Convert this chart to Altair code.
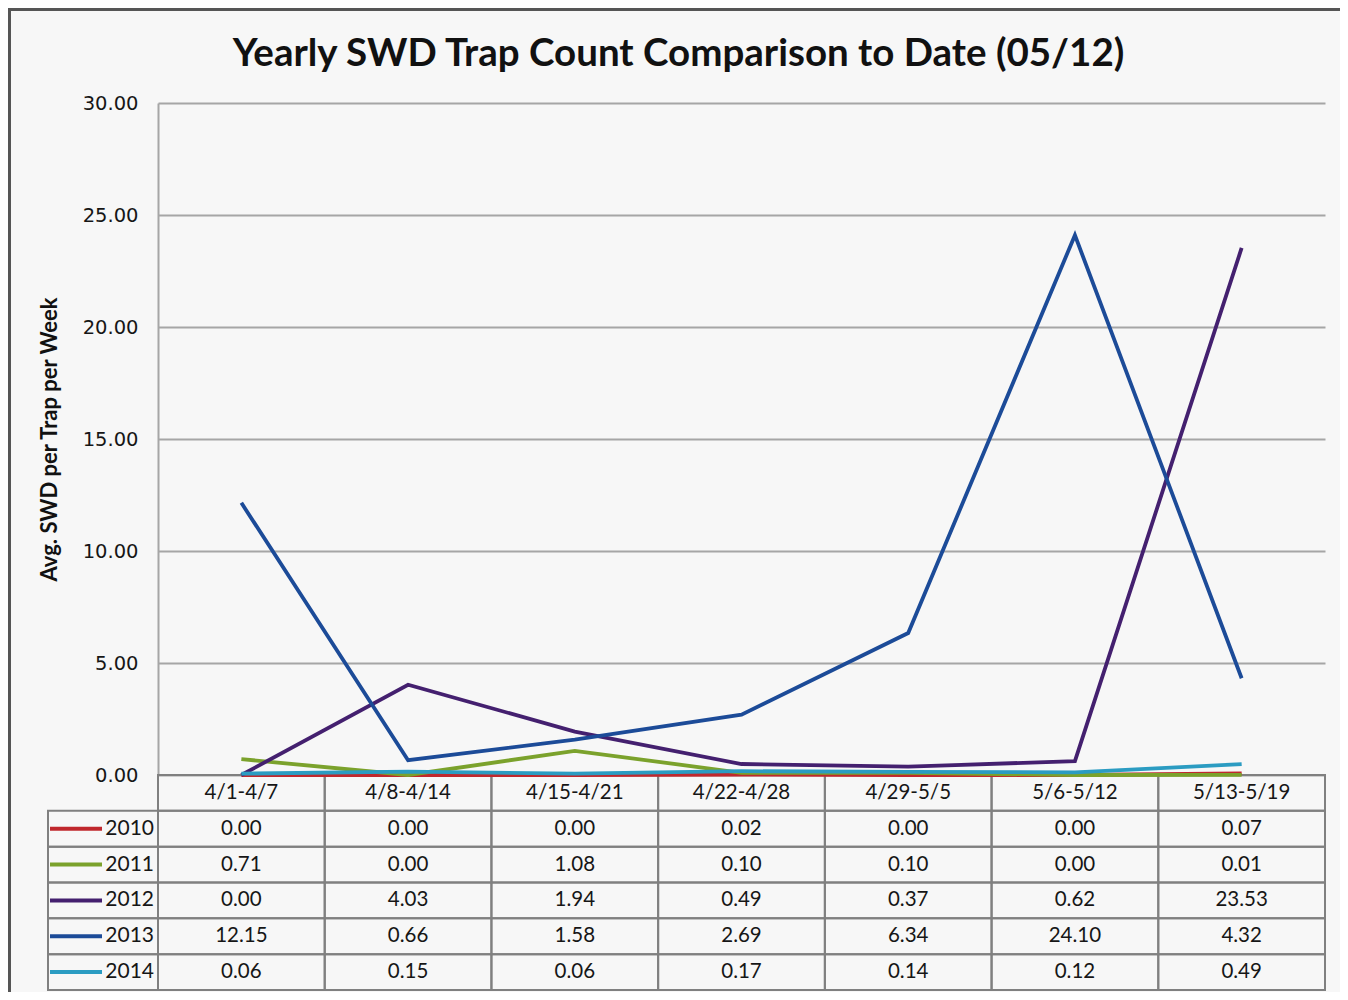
import altair as alt
import pandas as pd

categories = ["4/1-4/7", "4/8-4/14", "4/15-4/21", "4/22-4/28", "4/29-5/5", "5/6-5/12", "5/13-5/19"]
years = ["2010", "2011", "2012", "2013", "2014"]
v2010 = [0.00, 0.00, 0.00, 0.02, 0.00, 0.00, 0.07]
v2011 = [0.71, 0.00, 1.08, 0.10, 0.10, 0.00, 0.01]
v2012 = [0.00, 4.03, 1.94, 0.49, 0.37, 0.62, 23.53]
v2013 = [12.15, 0.66, 1.58, 2.69, 6.34, 24.10, 4.32]
v2014 = [0.06, 0.15, 0.06, 0.17, 0.14, 0.12, 0.49]
colors = ["#c0282d", "#7ba22c", "#44206f", "#1c4b98", "#2b9cc2"]
y_ticks = [0, 5, 10, 15, 20, 25, 30]
title_text = "Yearly SWD Trap Count Comparison to Date (05/12)"
y_title = "Avg. SWD per Trap per Week"

series = dict(zip(years, [v2010, v2011, v2012, v2013, v2014]))

rows = []
for yr in years:
    for i, (c, v) in enumerate(zip(categories, series[yr])):
        rows.append({"cat": c, "idx": i, "year": yr, "row": yr, "value": v, "label": f"{v:.2f}"})
df = pd.DataFrame(rows)
header = pd.DataFrame({"cat": categories, "row": ["header"] * len(categories), "label": categories})
cells = pd.concat([header, df[["cat", "row", "label"]]], ignore_index=True)
legend_df = pd.DataFrame({"row": years, "year": years})

W, H = 1167, 672
TABLE_H = 215
LEG_W = 110
GRID = "#a6a6a6"
TBL = "#808080"
TXT = "#161616"

x_scale = alt.Scale(type="band", domain=categories, paddingInner=0, paddingOuter=0)
row_scale = alt.Scale(type="band", domain=["header"] + years, range=[H, H + TABLE_H],
                      paddingInner=0, paddingOuter=0)
color_scale = alt.Scale(domain=years, range=colors)

one = pd.DataFrame({"a": [0]})
frame = alt.Chart(one).mark_rect(
    fill="transparent", stroke="#555555", strokeWidth=3
).encode(x=alt.value(-148.5), x2=alt.value(W + 200), y=alt.value(-93.5), y2=alt.value(H + 400))

title_mark = alt.Chart(one).mark_text(
    font="Lato", fontSize=38.5, fontWeight="bold", color="#111111", align="center", baseline="alphabetic"
).encode(x=alt.value(W / 2 - 63), y=alt.value(-37), text=alt.value(title_text))

cell_rects = alt.Chart(cells).mark_rect(fill="transparent", stroke=TBL, strokeWidth=2).encode(
    x=alt.X("cat:N", scale=x_scale, axis=None),
    y=alt.Y("row:N", scale=row_scale, axis=None),
)
cell_text = alt.Chart(cells).mark_text(font="Lato", fontSize=20.5, color=TXT, baseline="middle").encode(
    x=alt.X("cat:N", scale=x_scale, axis=None, bandPosition=0.5),
    y=alt.Y("row:N", scale=row_scale, axis=None, bandPosition=0.5),
    text="label:N",
)
leg_rects = alt.Chart(legend_df).mark_rect(fill="transparent", stroke=TBL, strokeWidth=2).encode(
    x=alt.value(-LEG_W), x2=alt.value(0),
    y=alt.Y("row:N", scale=row_scale, axis=None),
)
leg_swatch = alt.Chart(legend_df).mark_rule(strokeWidth=4).encode(
    x=alt.value(-108), x2=alt.value(-56),
    y=alt.Y("row:N", scale=row_scale, axis=None, bandPosition=0.5),
    color=alt.Color("year:N", scale=color_scale, legend=None),
)
leg_text = alt.Chart(legend_df).mark_text(font="Lato", fontSize=21, color=TXT, align="right",
                                          baseline="middle").encode(
    x=alt.value(-4),
    y=alt.Y("row:N", scale=row_scale, axis=None, bandPosition=0.5),
    text="year:N",
)
table = alt.layer(cell_rects, cell_text, leg_rects, leg_swatch, leg_text)

lines = alt.Chart(df).mark_line(strokeWidth=3.8).encode(
    x=alt.X("cat:N", scale=x_scale, axis=None, bandPosition=0.5),
    y=alt.Y("value:Q", scale=alt.Scale(domain=[0, 30], nice=False, zero=True),
            axis=alt.Axis(orient="left", values=y_ticks, format=".2f", labelFont="DejaVu Sans",
                          labelFontSize=19.5, labelColor=TXT, labelPadding=20, ticks=False,
                          grid=True, domainColor=GRID, domainWidth=2, gridColor=GRID, gridWidth=2,
                          title=y_title, titleFont="Lato", titleFontSize=22, titleFontWeight="bold",
                          titleColor="#111111", titlePadding=21)),
    color=alt.Color("year:N", scale=color_scale, legend=None),
    order=alt.Order("idx:Q"),
)

chart = alt.layer(frame, title_mark, table, lines).resolve_scale(y="independent").properties(
    width=W, height=H,
    autosize=alt.AutoSizeParams(type="none"),
    padding={"left": 150, "top": 95, "right": 15, "bottom": 217},
    background="#f7f7f7",
).configure_view(stroke=None)

chart.save("out.html", embed_options={"renderer": "svg", "actions": False})
